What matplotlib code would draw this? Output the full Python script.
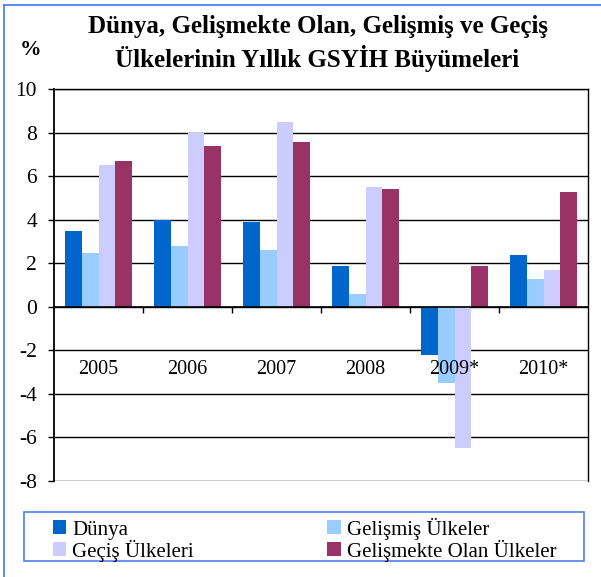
import matplotlib
matplotlib.use("Agg")
import matplotlib.pyplot as plt
from matplotlib.patches import Rectangle
from matplotlib.lines import Line2D
import numpy as np

years = ["2005", "2006", "2007", "2008", "2009*", "2010*"]
dunya = [3.5, 4.0, 3.9, 1.9, -2.2, 2.4]
gelismis = [2.5, 2.8, 2.6, 0.6, -3.5, 1.3]
gecis = [6.5, 8.0, 8.5, 5.5, -6.5, 1.7]
gelismekte = [6.7, 7.4, 7.6, 5.4, 1.9, 5.3]

series_names = ["Dünya", "Gelişmiş Ülkeler", "Geçiş Ülkeleri", "Gelişmekte Olan Ülkeler"]
series_vals = [dunya, gelismis, gecis, gelismekte]
colors = ["#0066CC", "#99CCFF", "#CCCCFF", "#993366"]

plt.rcParams['font.family'] = ['Liberation Serif', 'DejaVu Serif']

W, H = 601, 577
fig = plt.figure(figsize=(W / 100, H / 100), dpi=100)
ax = fig.add_axes([54 / W, 1 - 481 / H, 534 / W, (481 - 89.3) / H])

x = np.arange(len(years))
w = 0.1875
bars = []
for i, (vals, c) in enumerate(zip(series_vals, colors)):
    b = ax.bar(x + (i - 1.5) * w, vals, width=w, color=c, edgecolor='none', zorder=2)
    bars.append(b)

ax.set_xlim(-0.5, len(years) - 0.5)
ax.set_ylim(-8, 10)
yt = np.arange(-8, 11, 2)
ax.set_yticks(yt)
ax.set_yticklabels([str(v) for v in yt], fontsize=15.5)
ax.yaxis.grid(True, color='black', linewidth=1.0)
ax.set_axisbelow(True)
ax.xaxis.set_zorder(3)

ax.spines['bottom'].set_position(('data', 0))
for s in ['left', 'right', 'top', 'bottom']:
    ax.spines[s].set_color('black')
ax.spines['left'].set_linewidth(1.3)
ax.spines['bottom'].set_linewidth(1.2)
ax.spines['right'].set_linewidth(1.0)
ax.spines['top'].set_linewidth(1.0)

ax.set_xticks(x)
ax.set_xticklabels(years, fontsize=14.5)
ax.set_xticks(np.arange(0.5, len(years) - 0.5, 1), minor=True)
ax.tick_params(axis='x', which='major', length=0, pad=38)
ax.tick_params(axis='x', which='minor', length=4, width=1.0, direction='out', color='black')
ax.tick_params(axis='y', which='major', length=4.3, width=1.0, direction='out', pad=8, color='black')

# Title and unit
fig.text(318 / W, 1 - 27 / H, "Dünya, Gelişmekte Olan, Gelişmiş ve Geçiş",
         ha='center', va='center', fontsize=18, fontweight='bold')
fig.text(317 / W, 1 - 58 / H, "Ülkelerinin Yıllık GSYİH Büyümeleri",
         ha='center', va='center', fontsize=18, fontweight='bold')
fig.text(31 / W, 1 - 50 / H, "%", ha='center', va='center', fontsize=15.5, fontweight='bold')

# Outer border (left & top only visible)
blue = '#4F7FEF'
fig.add_artist(Line2D([4 / W, 4 / W], [0, 1 - 5 / H], transform=fig.transFigure, color=blue, lw=1.3))
fig.add_artist(Line2D([4 / W, 1], [1 - 5 / H, 1 - 5 / H], transform=fig.transFigure, color=blue, lw=1.3))

# Legend frame
fig.add_artist(Rectangle((24 / W, 1 - 561 / H), 560 / W, 49 / H, transform=fig.transFigure,
                         fill=False, edgecolor=blue, linewidth=1.2))
order = [0, 2, 1, 3]
leg = fig.legend([bars[i] for i in order], [series_names[i] for i in order],
                 ncol=2, loc='upper left', bbox_to_anchor=(40 / W, 1 - 505 / H),
                 frameon=False, fontsize=15, handlelength=0.65, handleheight=0.65,
                 handletextpad=0.3, labelspacing=0.0, columnspacing=6.4, borderpad=0.1)

fig.savefig("out.png", dpi=100)
